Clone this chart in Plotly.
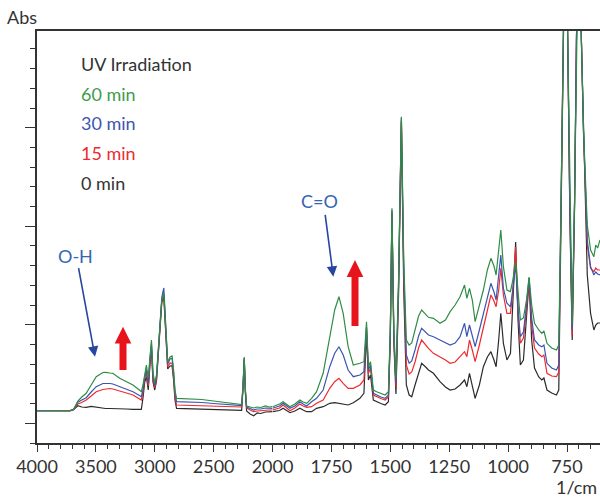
import plotly.graph_objects as go

# ---------------- data ----------------
wavenumber = [4000, 3900, 3800, 3720, 3690, 3653, 3620, 3582, 3540, 3497, 3440, 3418, 3380, 3356,
              3298, 3240, 3185, 3130, 3114, 3100, 3085, 3071, 3055, 3040, 3028, 3015, 3000, 2985,
              2960, 2940, 2923, 2905, 2890, 2870, 2853, 2840, 2828, 2815, 2700, 2600, 2500, 2400,
              2300, 2262, 2250, 2240, 2230, 2220, 2190, 2160, 2130, 2100, 2060, 2030, 2000,
              1970, 1955, 1940, 1926, 1905, 1884, 1870, 1855, 1834, 1813, 1785, 1757, 1736, 1718,
              1700, 1679, 1657, 1629, 1612, 1601, 1593, 1584, 1572, 1558, 1540, 1522, 1508, 1500,
              1493, 1485, 1476, 1465, 1453, 1443, 1432, 1420, 1409, 1395, 1380, 1367, 1350, 1338,
              1317, 1289, 1266, 1246, 1225, 1204, 1185, 1175, 1164, 1152, 1140, 1122, 1105, 1088,
              1073, 1060, 1051, 1040, 1031, 1020, 1005, 990, 980, 968, 958, 948, 935, 922, 911,
              900, 888, 870, 857, 848, 835, 815, 795, 785, 777, 768, 757, 747, 738, 728, 718, 710,
              699, 689, 680, 664, 650, 636, 628, 620, 610]

abs_60min = [0.325, 0.322, 0.324, 0.323, 0.335, 0.42, 0.46, 0.497, 0.58, 0.663, 0.705, 0.707, 0.70, 0.697,
             0.647, 0.615, 0.58, 0.53, 0.513, 0.58, 0.71, 0.78, 0.65, 0.88, 1.03, 0.71, 0.60, 0.68,
             1.08, 1.43, 1.50, 1.13, 0.81, 0.86, 0.87, 0.73, 0.53, 0.447, 0.44, 0.435, 0.42, 0.405,
             0.39, 0.385, 0.58, 0.86, 0.53, 0.37, 0.36, 0.35, 0.36, 0.355, 0.37, 0.36, 0.363,
             0.39, 0.413, 0.39, 0.363, 0.39, 0.43, 0.41, 0.397, 0.447, 0.513, 0.697, 1.063, 1.33, 1.463,
             1.297, 0.963, 0.78, 0.797, 0.813, 1.213, 0.763, 0.813, 0.53, 0.513, 0.50, 0.48, 0.513, 1.13,
             2.347, 1.13, 0.65, 1.63, 3.263, 1.83, 1.03, 0.98, 1.0, 1.13, 1.27, 1.33, 1.29, 1.257,
             1.247, 1.197, 1.23, 1.313, 1.38, 1.463, 1.58, 1.447, 1.547, 1.43, 1.213, 1.38, 1.53, 1.73,
             1.847, 1.77, 1.68, 1.93, 2.13, 1.763, 1.53, 1.513, 1.63, 1.81, 1.48, 1.23, 1.25, 1.43, 1.66,
             1.38, 1.197, 1.13, 1.097, 1.12, 0.997, 0.95, 0.93, 0.98, 2.13, 4.03, 5.5, 4.03, 2.43, 1.197, 2.43, 4.03,
             5.5, 4.03, 3.13, 2.18, 1.93, 1.863, 1.98, 1.95, 2.03]

abs_30min = [0.322, 0.325, 0.322, 0.324, 0.335, 0.407, 0.43, 0.453, 0.51, 0.563, 0.595, 0.597, 0.595, 0.59,
             0.563, 0.54, 0.513, 0.475, 0.463, 0.53, 0.67, 0.73, 0.60, 0.85, 0.997, 0.67, 0.57, 0.66,
             1.10, 1.46, 1.55, 1.15, 0.79, 0.84, 0.847, 0.70, 0.50, 0.413, 0.41, 0.405, 0.395, 0.387,
             0.38, 0.375, 0.57, 0.85, 0.52, 0.36, 0.345, 0.33, 0.34, 0.34, 0.35, 0.345, 0.347,
             0.37, 0.397, 0.37, 0.347, 0.37, 0.413, 0.39, 0.37, 0.413, 0.447, 0.53, 0.763, 0.897, 0.963,
             0.88, 0.73, 0.663, 0.68, 0.713, 1.163, 0.73, 0.78, 0.497, 0.48, 0.46, 0.447, 0.48, 1.10,
             2.33, 1.08, 0.60, 1.58, 3.25, 1.73, 0.88, 0.797, 0.82, 0.93, 1.07, 1.147, 1.11, 1.08,
             1.063, 1.03, 1.00, 0.98, 1.00, 1.063, 1.197, 1.063, 1.18, 1.08, 0.963, 1.13, 1.297, 1.48,
             1.597, 1.51, 1.43, 1.68, 1.88, 1.547, 1.397, 1.363, 1.53, 1.79, 1.33, 1.063, 1.11, 1.38, 1.65,
             1.25, 1.03, 0.98, 0.963, 0.98, 0.797, 0.75, 0.73, 0.78, 2.08, 4.03, 5.5, 4.03, 2.38, 1.13, 2.40, 4.03,
             5.5, 4.03, 3.11, 2.03, 1.763, 1.68, 1.71, 1.69, 1.68]

abs_15min = [0.323, 0.324, 0.323, 0.322, 0.333, 0.39, 0.405, 0.43, 0.47, 0.513, 0.535, 0.54, 0.545, 0.54,
             0.523, 0.50, 0.48, 0.445, 0.43, 0.50, 0.65, 0.697, 0.57, 0.82, 0.963, 0.64, 0.55, 0.64,
             1.07, 1.43, 1.48, 1.10, 0.76, 0.80, 0.797, 0.66, 0.46, 0.38, 0.377, 0.372, 0.37, 0.365,
             0.363, 0.36, 0.56, 0.84, 0.51, 0.35, 0.33, 0.313, 0.32, 0.325, 0.33, 0.33, 0.33,
             0.35, 0.38, 0.35, 0.323, 0.35, 0.39, 0.37, 0.357, 0.363, 0.397, 0.43, 0.547, 0.613, 0.647,
             0.597, 0.547, 0.547, 0.58, 0.63, 1.147, 0.697, 0.747, 0.48, 0.463, 0.445, 0.43, 0.463, 1.08,
             2.31, 1.05, 0.56, 1.55, 3.23, 1.67, 0.78, 0.69, 0.71, 0.81, 0.95, 1.03, 0.98, 0.947,
             0.897, 0.863, 0.83, 0.797, 0.81, 0.863, 0.913, 0.863, 1.03, 0.93, 0.813, 0.98, 1.163, 1.35,
             1.48, 1.42, 1.363, 1.53, 1.747, 1.48, 1.297, 1.297, 1.53, 1.96, 1.33, 0.997, 1.05, 1.33, 1.63,
             1.18, 0.95, 0.89, 0.863, 0.88, 0.697, 0.67, 0.663, 0.71, 2.03, 4.03, 5.5, 4.03, 2.33, 1.08, 2.38, 4.03,
             5.5, 4.03, 3.10, 1.98, 1.747, 1.713, 1.75, 1.73, 1.73]

abs_0min = [0.324, 0.321, 0.325, 0.323, 0.332, 0.373, 0.36, 0.357, 0.367, 0.357, 0.35, 0.345, 0.345, 0.343,
            0.34, 0.34, 0.337, 0.335, 0.337, 0.45, 0.61, 0.663, 0.53, 0.79, 0.947, 0.61, 0.53, 0.62,
            1.05, 1.41, 1.45, 1.06, 0.74, 0.77, 0.773, 0.63, 0.43, 0.347, 0.343, 0.337, 0.335, 0.332,
            0.33, 0.327, 0.55, 0.83, 0.49, 0.32, 0.29, 0.273, 0.30, 0.295, 0.31, 0.31, 0.313,
            0.325, 0.347, 0.32, 0.303, 0.32, 0.347, 0.33, 0.313, 0.313, 0.347, 0.363, 0.397, 0.403, 0.397,
            0.387, 0.38, 0.403, 0.447, 0.497, 1.097, 0.63, 0.68, 0.43, 0.413, 0.395, 0.38, 0.413, 1.03,
            2.29, 1.0, 0.49, 1.48, 3.21, 1.53, 0.58, 0.48, 0.463, 0.58, 0.71, 0.797, 0.76, 0.73,
            0.697, 0.613, 0.56, 0.53, 0.54, 0.58, 0.63, 0.563, 0.697, 0.58, 0.447, 0.58, 0.763, 0.86,
            0.913, 0.83, 0.763, 1.03, 1.297, 0.997, 0.83, 0.897, 1.43, 2.01, 1.23, 0.78, 0.83, 1.23, 1.62,
            1.03, 0.75, 0.66, 0.63, 0.65, 0.53, 0.50, 0.48, 0.53, 1.93, 4.03, 5.5, 4.03, 2.28, 1.03, 2.35, 4.03,
            5.5, 4.03, 3.08, 1.68, 1.297, 1.13, 1.18, 1.20, 1.20]

series_names = ["0 min", "15 min", "30 min", "60 min"]
series_values = [abs_0min, abs_15min, abs_30min, abs_60min]
series_colors = ["#2b2b2b", "#ee2a2e", "#3a56b2", "#2f8c45"]

legend_title = "UV Irradiation"
legend_order = ["60 min", "30 min", "15 min", "0 min"]
legend_text_colors = {"60 min": "#3f9c4b", "30 min": "#3d55b0", "15 min": "#ec2a2f", "0 min": "#333333"}

left_ticks = [4000, 3500, 3000, 2500]
right_ticks = [2000, 1750, 1500, 1250, 1000, 750]
split_wn = 2000
x_right_end = 610
y_major = [0.197, 1.182, 2.168, 3.153]
y_minor_step = 0.19706
y_range = [0, 4.12]

# ---------------- layout geometry ----------------
W, H = 600, 497
L, T, B, R = 37, 31, 54, 0
PW, PH = W - L - R, H - T - B
split_frac = (272.5 - L) / PW

def px(x):
    return (x - L) / PW

def py(y):
    return (H - B - y) / PH

FONT = "Lato, 'Open Sans', sans-serif"
AX = "#333333"

fig = go.Figure()
for name, vals, col in zip(series_names, series_values, series_colors):
    lx = [w for w in wavenumber if w >= split_wn]
    ly = [v for w, v in zip(wavenumber, vals) if w >= split_wn]
    rx = [w for w in wavenumber if w <= split_wn]
    ry = [v for w, v in zip(wavenumber, vals) if w <= split_wn]
    fig.add_trace(go.Scatter(x=lx, y=ly, mode="lines", name=name, xaxis="x", yaxis="y",
                             line=dict(color=col, width=1.2), showlegend=False, hoverinfo="skip"))
    fig.add_trace(go.Scatter(x=rx, y=ry, mode="lines", name=name, xaxis="x2", yaxis="y",
                             line=dict(color=col, width=1.2), showlegend=False, hoverinfo="skip"))

common_x = dict(showline=True, linecolor=AX, linewidth=1.5, mirror=True, ticks="outside",
                ticklen=7, tickwidth=1.3, tickcolor=AX, showgrid=False, zeroline=False,
                tickfont=dict(family=FONT, size=18, color=AX), anchor="y")

fig.update_layout(
    width=W, height=H, margin=dict(l=L, r=R, t=T, b=B),
    paper_bgcolor="white", plot_bgcolor="white", showlegend=False,
    font=dict(family=FONT, size=18, color=AX),
    xaxis=dict(domain=[0, split_frac], range=[4000, split_wn], tickmode="array",
               tickvals=left_ticks, ticktext=[str(t) for t in left_ticks],
               minor=dict(ticks="outside", ticklen=4, tickwidth=1.2, tickcolor=AX, dtick=100, tick0=0),
               **common_x),
    xaxis2=dict(domain=[split_frac, 1], range=[split_wn, x_right_end], tickmode="array",
                tickvals=right_ticks, ticktext=[str(t) for t in right_ticks],
                minor=dict(ticks="outside", ticklen=4, tickwidth=1.2, tickcolor=AX, dtick=50, tick0=0),
                **common_x),
    yaxis=dict(domain=[0, 1], range=y_range, showline=True, linecolor=AX, linewidth=1.5,
               ticks="outside", ticklen=10, tickwidth=1.3, tickcolor=AX, tickmode="array",
               tickvals=y_major, showticklabels=False, showgrid=False, zeroline=False,
               minor=dict(ticks="outside", ticklen=5, tickwidth=1.2, tickcolor=AX,
                          tick0=y_major[0], dtick=y_minor_step),
               anchor="x"),
)

ann = []
ann.append(dict(text="Abs", x=px(21.5), y=py(17.5), xref="paper", yref="paper",
                showarrow=False, xanchor="center", yanchor="middle",
                font=dict(family=FONT, size=18, color=AX)))
ann.append(dict(text="1/cm", x=px(599), y=py(487), xref="paper", yref="paper",
                showarrow=False, xanchor="right", yanchor="middle",
                font=dict(family=FONT, size=18, color=AX)))
ann.append(dict(text=legend_title, x=px(79), y=py(64), xref="paper", yref="paper",
                showarrow=False, xanchor="left", yanchor="middle",
                font=dict(family=FONT, size=18, color=AX)))
for i, nm in enumerate(legend_order):
    ann.append(dict(text=nm, x=px(79), y=py(93.5 + 29.7 * i), xref="paper", yref="paper",
                    showarrow=False, xanchor="left", yanchor="middle",
                    font=dict(family=FONT, size=18, color=legend_text_colors[nm])))

label_blue = "#3566b5"
arrow_blue = "#26479c"
ann.append(dict(text="O-H", x=px(75), y=py(256), xref="paper", yref="paper", showarrow=False,
                xanchor="center", yanchor="middle", font=dict(family=FONT, size=18, color=label_blue)))
ann.append(dict(text="C=O", x=px(319), y=py(201), xref="paper", yref="paper", showarrow=False,
                xanchor="center", yanchor="middle", font=dict(family=FONT, size=18, color=label_blue)))
ann.append(dict(text="", x=px(95), y=py(356.7), xref="paper", yref="paper", showarrow=True,
                ax=78.3 - 95, ay=266.7 - 356.7, axref="pixel", ayref="pixel",
                arrowhead=2, arrowsize=1.3, arrowwidth=1.6, arrowcolor=arrow_blue))
ann.append(dict(text="", x=px(333.3), y=py(276.7), xref="paper", yref="paper", showarrow=True,
                ax=325 - 333.3, ay=213.3 - 276.7, axref="pixel", ayref="pixel",
                arrowhead=2, arrowsize=1.3, arrowwidth=1.6, arrowcolor=arrow_blue))
fig.update_layout(annotations=ann)

def up_arrow(cx, bottom, head_base, tip, shaft_half=3.5, head_half=8.3):
    pts = [(cx - shaft_half, bottom), (cx - shaft_half, head_base), (cx - head_half, head_base),
           (cx, tip), (cx + head_half, head_base), (cx + shaft_half, head_base),
           (cx + shaft_half, bottom)]
    return "M " + " L ".join(f"{px(a):.5f},{py(b):.5f}" for a, b in pts) + " Z"

shapes = [
    dict(type="path", path=up_arrow(123.0, 370.0, 343.5, 326.7), xref="paper", yref="paper",
         fillcolor="#e8141c", line=dict(width=0)),
    dict(type="path", path=up_arrow(355.0, 326.0, 277.0, 260.0), xref="paper", yref="paper",
         fillcolor="#e8141c", line=dict(width=0)),
]
fig.update_layout(shapes=shapes)

fig.write_html("out.html")
